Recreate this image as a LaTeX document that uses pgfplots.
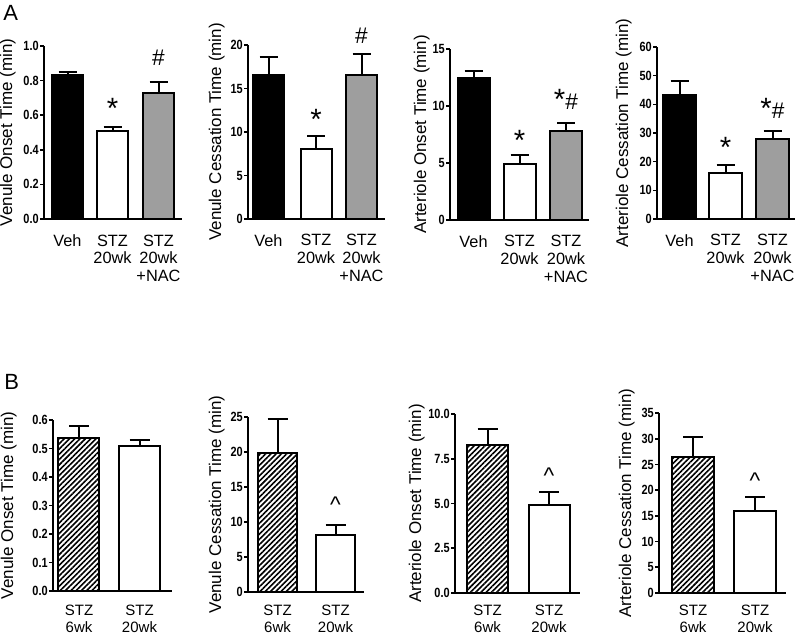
\documentclass[border=0pt]{standalone}
\usepackage{fontspec}
\setmainfont{Liberation Sans}
\usepackage{pgfplots}
\pgfplotsset{compat=1.18}
\usetikzlibrary{patterns.meta}
\definecolor{barg}{RGB}{158,158,158}
\pgfplotsset{
  panel/.style={
    scale only axis, axis lines=left, axis line style={-, line width=1.5pt},
    xmin=0, ymin=0, clip=false,
    tick align=outside, major tick length=3pt,
    ytick style={line width=1.2pt, black},
    xtick style={draw=none},
    /pgf/number format/assume math mode=true,
    yticklabel style={font=\bfseries\fontsize{10}{10}\selectfont, inner sep=1pt, xscale=0.82},
    xticklabel style={font=\fontsize{12.25}{13.4}\selectfont, align=center, anchor=north, inner sep=0pt, yshift=-8.5pt},
    ylabel style={font=\fontsize{12.75}{15}\selectfont, inner sep=0pt, anchor=south},
  },
  bpanel/.style={panel, xticklabel style={font=\fontsize{11.25}{12.8}\selectfont, yshift=1.25pt}},
  onedec/.style={yticklabel style={/pgf/number format/.cd, fixed, fixed zerofill, precision=1}},
  bbar/.style={ybar, bar shift=0pt, bar width=#1, draw=black, line width=1.5pt,
    error bars/y dir=plus, error bars/y explicit,
    error bars/error bar style={line width=1.5pt, black},
    error bars/error mark options={rotate=90, mark size=6.75pt, line width=1.5pt, black}},
  wbar/.style={ybar, bar shift=0pt, bar width=#1, draw=black, line width=1.5pt,
    error bars/y dir=plus, error bars/y explicit,
    error bars/error bar style={line width=1.5pt, black},
    error bars/error mark options={rotate=90, mark size=7.5pt, line width=1.5pt, black}},
  hatch/.style={pattern={Lines[angle=45,distance=2.8pt,line width=1.2pt]}},
}
\newcommand{\sstar}{\fontsize{22}{22}\selectfont *}
\newcommand{\shash}{\fontsize{17}{17}\selectfont \#}
\newcommand{\scaret}{\fontsize{17}{17}\selectfont \char`\^}
\begin{document}
\begin{tikzpicture}
\useasboundingbox (0,0) rectangle (597pt,476.25pt);
\node[anchor=base west, inner sep=0pt, font=\fontsize{16.5}{16.5}\selectfont] at (2.25pt,460.5pt) {A};
\node[anchor=base west, inner sep=0pt, font=\fontsize{16.5}{16.5}\selectfont] at (3pt,183.75pt) {B};

% ---------- A1 ----------
\begin{axis}[panel, onedec, at={(33pt,312pt)}, anchor=south west,
  width=103.5pt, height=129.75pt, xmax=138, ymax=1.0, ytick={0,0.2,...,1.0},
  xtick={23.5,68.5,114.5}, xticklabels={Veh,{STZ\\20wk},{STZ\\20wk\\+NAC}},
  ylabel={Venule Onset Time (min)}, ylabel style={at={([xshift=-21pt]axis description cs:0,0.5)}}]
\addplot[bbar=31, fill=black] coordinates {(23.5,0.833) +- (0,0.019)};
\addplot[bbar=31, fill=white] coordinates {(68.5,0.506) +- (0,0.023)};
\addplot[bbar=31, fill=barg] coordinates {(114.5,0.731) +- (0,0.063)};
\node[anchor=base, inner sep=0pt] at (axis cs:68.5,0.578) {\sstar};
\node[anchor=base, inner sep=0pt] at (axis cs:114.5,0.89) {\shash};
\end{axis}

% ---------- A2 ----------
\begin{axis}[panel, at={(186pt,312pt)}, anchor=south west,
  width=102.75pt, height=130.5pt, xmax=137, ymax=20, ytick={0,5,...,20},
  xtick={20.5,68,113.5}, xticklabels={Veh,{STZ\\20wk},{STZ\\20wk\\+NAC}},
  ylabel={Venule Cessation Time (min)}, ylabel style={at={([xshift=-17.25pt]axis description cs:0,0.5)}}]
\addplot[bbar=31, fill=black] coordinates {(20.5,16.6) +- (0,2.0)};
\addplot[bbar=31, fill=white] coordinates {(68,8.1) +- (0,1.4)};
\addplot[bbar=31, fill=barg] coordinates {(113.5,16.5) +- (0,2.5)};
\node[anchor=base, inner sep=0pt] at (axis cs:68,10.34) {\sstar};
\node[anchor=base, inner sep=0pt] at (axis cs:113.5,20.2) {\shash};
\end{axis}

% ---------- A3 ----------
\begin{axis}[panel, at={(337.5pt,311.25pt)}, anchor=south west,
  width=104.25pt, height=128.25pt, xmax=139, ymax=15, ytick={0,5,...,15},
  xtick={23.5,69.5,116}, xticklabels={Veh,{STZ\\20wk},{STZ\\20wk\\+NAC}},
  ylabel={Arteriole Onset Time (min)}, ylabel style={at={([xshift=-15pt]axis description cs:0,0.5)}}]
\addplot[bbar=32, fill=black] coordinates {(23.5,12.44) +- (0,0.66)};
\addplot[bbar=32, fill=white] coordinates {(69.5,4.95) +- (0,0.76)};
\addplot[bbar=32, fill=barg] coordinates {(116,7.8) +- (0,0.73)};
\node[anchor=base, inner sep=0pt] at (axis cs:69.5,6.1) {\sstar};
\node[anchor=base, inner sep=0pt] at (axis cs:116,9.68) {\sstar\shash};
\end{axis}

% ---------- A4 ----------
\begin{axis}[panel, at={(492.75pt,312pt)}, anchor=south west,
  width=103.5pt, height=129pt, xmax=138, ymax=60, ytick={0,10,...,60},
  xtick={22.5,68.5,115.5}, xticklabels={Veh,{STZ\\20wk},{STZ\\20wk\\+NAC}},
  ylabel={Arteriole Cessation Time (min)}, ylabel style={at={([xshift=-18.75pt]axis description cs:0,0.5)}}]
\addplot[bbar=33, fill=black] coordinates {(22.5,43.2) +- (0,5.0)};
\addplot[bbar=33, fill=white] coordinates {(68.5,16.0) +- (0,2.9)};
\addplot[bbar=33, fill=barg] coordinates {(115.5,27.8) +- (0,3.0)};
\node[anchor=base, inner sep=0pt] at (axis cs:68.5,21.3) {\sstar};
\node[anchor=base, inner sep=0pt] at (axis cs:115.5,35.2) {\sstar\shash};
\end{axis}

% ---------- B1 ----------
\begin{axis}[bpanel, onedec, at={(39.75pt,33pt)}, anchor=south west,
  width=89.25pt, height=128.25pt, xmax=119, ymax=0.6, ytick={0,0.1,...,0.6},
  xtick={26,86.5}, xticklabels={{STZ\\6wk},{STZ\\20wk}},
  ylabel={Venule Onset Time (min)}, ylabel style={at={([xshift=-27pt]axis description cs:0,0.5)}}]
\addplot[wbar=41, hatch] coordinates {(26,0.536) +- (0,0.042)};
\addplot[wbar=41, fill=white] coordinates {(86.5,0.508) +- (0,0.022)};
\end{axis}

% ---------- B2 ----------
\begin{axis}[bpanel, at={(186pt,32.25pt)}, anchor=south west,
  width=87pt, height=131.25pt, xmax=116, ymax=25, ytick={0,5,...,25},
  xtick={29.5,87.5}, xticklabels={{STZ\\6wk},{STZ\\20wk}}, xticklabel style={yshift=0.75pt},
  ylabel={Venule Cessation Time (min)}, ylabel style={at={([xshift=-17.25pt]axis description cs:0,0.5)}}]
\addplot[wbar=39, hatch] coordinates {(29.5,19.9) +- (0,4.8)};
\addplot[wbar=39, fill=white] coordinates {(87.5,8.08) +- (0,1.42)};
\node[anchor=base, inner sep=0pt] at (axis cs:87.5,11.4) {\scaret};
\end{axis}

% ---------- B3 ----------
\begin{axis}[bpanel, onedec, at={(341.25pt,31.5pt)}, anchor=south west,
  width=93.75pt, height=134.25pt, xmax=125, ymax=10, ytick={0,2.5,...,10},
  xtick={32.5,94}, xticklabels={{STZ\\6wk},{STZ\\20wk}}, xticklabel style={yshift=1.5pt},
  ylabel={Arteriole Onset Time (min)}, ylabel style={at={([xshift=-22.5pt]axis description cs:0,0.5)}}]
\addplot[wbar=41, hatch] coordinates {(32.5,8.29) +- (0,0.87)};
\addplot[wbar=41, fill=white] coordinates {(94,4.9) +- (0,0.72)};
\node[anchor=base, inner sep=0pt] at (axis cs:94,6.1) {\scaret};
\end{axis}

% ---------- B4 ----------
\begin{axis}[bpanel, at={(494.25pt,31.5pt)}, anchor=south west,
  width=95.25pt, height=135pt, xmax=127, ymax=35, ytick={0,5,...,35},
  xtick={34,96}, xticklabels={{STZ\\6wk},{STZ\\20wk}}, xticklabel style={yshift=1.5pt},
  ylabel={Arteriole Cessation Time (min)}, ylabel style={at={([xshift=-18pt]axis description cs:0,0.5)}}]
\addplot[wbar=42, hatch] coordinates {(34,26.4) +- (0,3.9)};
\addplot[wbar=42, fill=white] coordinates {(96,15.9) +- (0,2.8)};
\node[anchor=base, inner sep=0pt] at (axis cs:96,20.4) {\scaret};
\end{axis}
\end{tikzpicture}
\end{document}
